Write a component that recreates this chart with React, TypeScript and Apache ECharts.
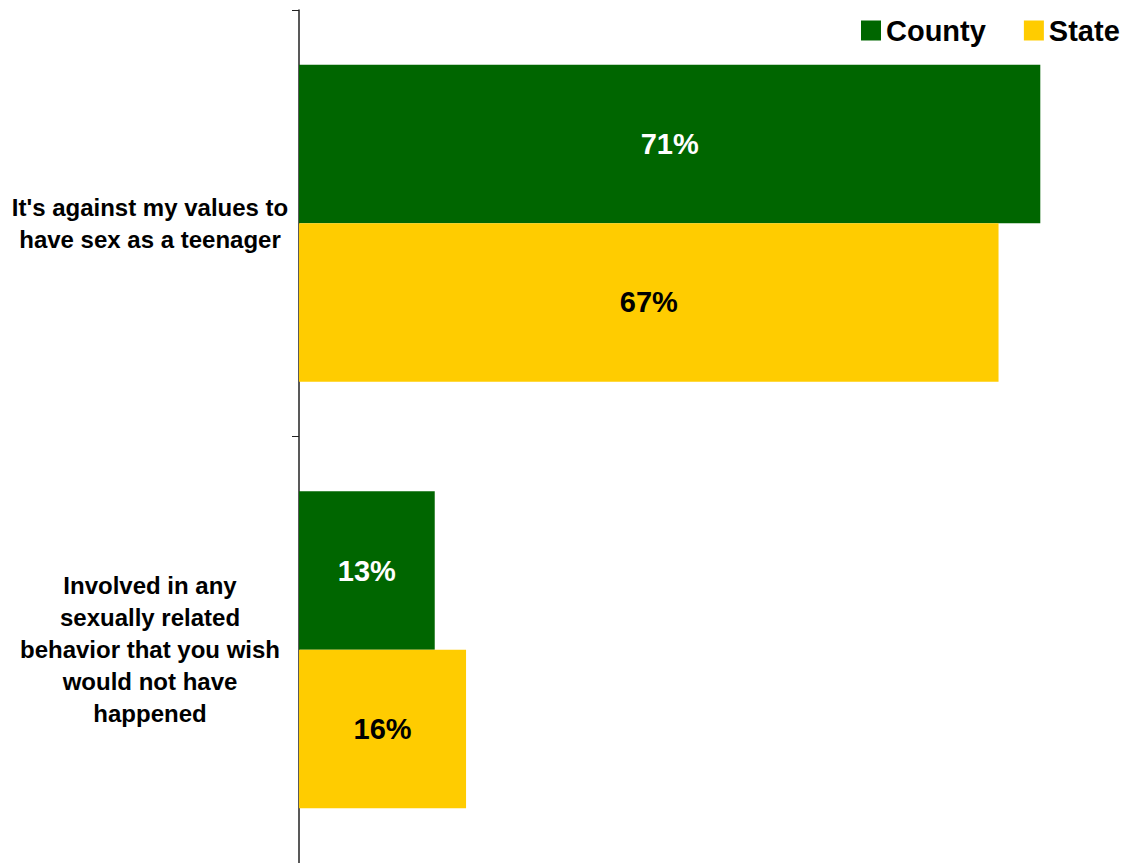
import React, { useEffect, useRef } from "react";
import * as echarts from "echarts";

const categories = [
  "It's against my values to\nhave sex as a teenager",
  "Involved in any\nsexually related\nbehavior that you wish\nwould not have\nhappened",
];
const countyValues = [71, 13];
const stateValues = [67, 16];
const seriesNames = ["County", "State"];

export default function App() {
  const ref = useRef<HTMLDivElement>(null);
  useEffect(() => {
    if (!ref.current) return;
    const chart = echarts.init(ref.current, null, { renderer: "svg" });
    const font = "'Liberation Sans', Arial, sans-serif";
    chart.setOption({
      animation: false,
      backgroundColor: "#ffffff",
      textStyle: { fontFamily: font },
      legend: {
        data: seriesNames,
        left: 856,
        top: 11,
        itemWidth: 20,
        itemHeight: 20,
        itemGap: 38,
        icon: "rect",
        textStyle: { fontSize: 29, fontWeight: "bold", color: "#000", fontFamily: font },
      },
      grid: { left: 299, top: 10, right: 0, height: 853, containLabel: false },
      xAxis: {
        type: "value",
        min: 0,
        max: 79.4,
        show: false,
      },
      yAxis: {
        type: "category",
        data: categories,
        inverse: true,
        axisLine: { show: true, lineStyle: { color: "#222", width: 1.5 } },
        axisTick: { show: true, length: 7, lineStyle: { color: "#222" } },
        axisLabel: {
          align: "center",
          margin: 149,
          fontSize: 24,
          fontWeight: "bold",
          color: "#000",
          lineHeight: 32,
          fontFamily: font,
        },
      },
      series: [
        {
          name: seriesNames[0],
          type: "bar",
          data: countyValues,
          barGap: "0%",
          barCategoryGap: "25.7%",
          itemStyle: { color: "#006600" },
          label: {
            show: true,
            position: "inside",
            formatter: "{c}%",
            color: "#ffffff",
            fontSize: 29,
            fontWeight: "bold",
            fontFamily: font,
          },
        },
        {
          name: seriesNames[1],
          type: "bar",
          data: stateValues,
          barGap: "0%",
          barCategoryGap: "25.7%",
          itemStyle: { color: "#FFCC00" },
          label: {
            show: true,
            position: "inside",
            formatter: "{c}%",
            color: "#000000",
            fontSize: 29,
            fontWeight: "bold",
            fontFamily: font,
          },
        },
      ],
    });
    return () => chart.dispose();
  }, []);
  return (
    <div
      ref={ref}
      style={{ position: "absolute", left: 0, top: 0, width: 1128, height: 863 }}
    />
  );
}
